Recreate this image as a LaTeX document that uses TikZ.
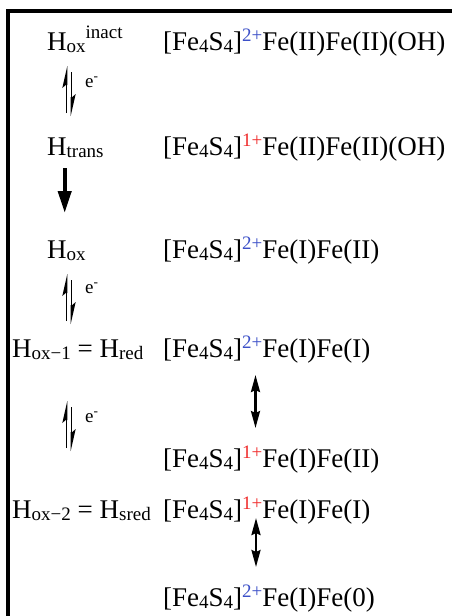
\documentclass[tikz,border=0pt]{standalone}
\usepackage{fontspec}
\setmainfont{Liberation Serif}
\usetikzlibrary{arrows.meta}
\definecolor{chblue}{RGB}{60,80,200}
\definecolor{chred}{RGB}{240,45,45}
\newcommand\sbs[1]{\raisebox{-0.1em}{\fontsize{19}{19}\selectfont #1}}
\newcommand\sps[1]{\raisebox{0.3em}{\fontsize{19}{19}\selectfont #1}}
\newcommand\spsh[1]{\raisebox{0.42em}{\fontsize{19}{19}\selectfont #1}}
\newcommand\clus[1]{[Fe\sbs{4}S\sbs{4}]\sps{#1}}
\newcommand\two{\color{chblue}2+}
\newcommand\one{\color{chred}1+}
% equilibrium harpoons, origin = top of the left line
\newcommand\eqharp[1]{%
  \begin{scope}[shift={(#1)}]
    \draw[eqline] (0,46) -- (0,14);
    \fill (0.8,-1) -- (-4.2,21) -- (-0.8,18) -- (0.8,18) -- cycle;
    \draw[eqline] (5,5) -- (5,32);
    \fill (4.2,49) -- (9.2,27) -- (5.8,30) -- (4.2,30) -- cycle;
  \end{scope}}
\tikzset{
  lbl/.style={anchor=base west, inner sep=0pt, font=\fontsize{27}{27}\selectfont},
  elbl/.style={anchor=base west, inner sep=0pt, font=\fontsize{19}{19}\selectfont},
  frame/.style={line width=3.3pt},
  eqline/.style={line width=1.6pt},
  bigdown/.style={line width=4pt, -{Triangle[length=22pt,width=13pt]}},
  dbl/.style={line width=2.5pt, {Stealth[length=17pt,width=9pt,inset=2pt]}-{Stealth[length=17pt,width=9pt,inset=2pt]}}
}
\begin{document}
\begin{tikzpicture}[x=1pt,y=-1pt]
\fill[white] (0,0) rectangle (452,616);
\useasboundingbox (0,0) rectangle (452,616);
\draw[frame] (452,11) -- (8,11) -- (8,616);
% labels
\node[lbl] (hinact) at (47,50) {H\sbs{ox}\spsh{inact}};
\node[lbl] (cinact) at (163,50) {\clus{\two}Fe(II)Fe(II)(OH)};
\node[lbl] (htrans) at (47,155) {H\sbs{trans}};
\node[lbl] (ctrans) at (163,155) {\clus{\one}Fe(II)Fe(II)(OH)};
\node[lbl] (hox) at (47,258) {H\sbs{ox}};
\node[lbl] (cox) at (163,258) {\clus{\two}Fe(I)Fe(II)};
\node[lbl] (hred) at (12,357) {H\sbs{ox−1} = H\sbs{red}};
\node[lbl] (cred) at (163,357) {\clus{\two}Fe(I)Fe(I)};
\node[lbl] (cred2) at (163,467) {\clus{\one}Fe(I)Fe(II)};
\node[lbl] (hsred) at (12,518) {H\sbs{ox−2} = H\sbs{sred}};
\node[lbl] (csred) at (163,518) {\clus{\one}Fe(I)Fe(I)};
\node[lbl] (csred2) at (163,606) {\clus{\two}Fe(I)Fe(0)};
% electron labels
\node[elbl] (e1) at (85,87) {e\textsuperscript{-}};
\node[elbl] (e2) at (85,293) {e\textsuperscript{-}};
\node[elbl] (e3) at (85,422) {e\textsuperscript{-}};
% arrow anchor points
\coordinate (q1) at (66.5,67);
\coordinate (q2) at (66.5,275);
\coordinate (q3) at (66.5,402);
\coordinate (dt) at (64.7,168); \coordinate (db) at (64.7,213);
\coordinate (d1t) at (255.5,375); \coordinate (d1b) at (255.5,428);
\coordinate (d2t) at (256,518); \coordinate (d2b) at (256,567);
% equilibrium arrows
\eqharp{q1}
\eqharp{q2}
\eqharp{q3}
% one-way arrow
\draw[bigdown] (dt) -- (db);
% double arrows
\draw[dbl] (d1t) -- (d1b);
\draw[dbl] (d2t) -- (d2b);
\end{tikzpicture}
\end{document}
